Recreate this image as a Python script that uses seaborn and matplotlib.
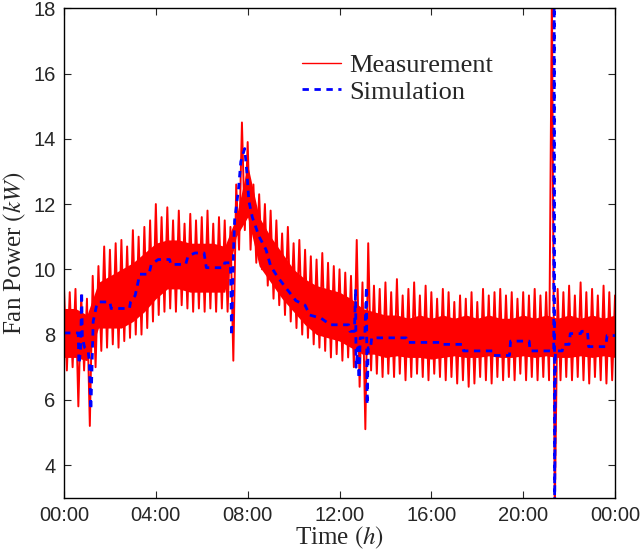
import numpy as np
import pandas as pd
import matplotlib
matplotlib.use("Agg")
import matplotlib.pyplot as plt
import seaborn as sns

# measured fan power, tips of the upper / lower swings every 15 min (kW)
meas_hi = [9.4, 9.3, 9.4, 9.2, 9.1, 9.8, 10.1, 10.7, 10.6, 10.8, 10.9, 10.7,
           11.2, 11.0, 11.3, 11.5, 12.0, 11.6, 11.9, 11.5, 11.8, 11.4, 11.7, 11.5,
           11.6, 11.8, 11.4, 11.6, 11.5, 11.3, 12.6, 14.5, 13.9, 12.6, 12.3, 12.0,
           11.8, 11.5, 11.1, 11.3, 10.8, 10.9, 10.6, 10.4, 10.3, 10.5, 10.2, 10.1,
           10.0, 9.9, 9.8, 10.9, 9.6, 10.8, 9.5, 9.4, 9.6, 9.3, 9.7, 9.2,
           9.4, 9.6, 9.2, 9.5, 9.3, 9.1, 9.4, 9.3, 9.0, 9.2, 9.1, 9.3,
           9.0, 9.4, 9.2, 9.3, 9.4, 9.2, 9.3, 9.1, 9.3, 9.2, 9.4, 9.2,
           9.3, 18.5, 9.4, 9.3, 9.5, 9.2, 9.6, 9.3, 9.4, 9.2, 9.5, 9.3, 9.2]
meas_lo = [6.9, 7.0, 5.8, 6.9, 5.2, 7.0, 7.5, 7.6, 7.7, 7.6, 7.8, 7.9,
           8.0, 8.0, 8.2, 8.4, 8.6, 8.7, 8.8, 8.7, 8.9, 8.8, 8.7, 8.8,
           8.7, 8.8, 8.7, 8.8, 8.7, 7.2, 10.6, 11.2, 10.6, 10.2, 10.0, 9.5,
           9.1, 8.9, 8.6, 8.4, 8.2, 8.0, 7.9, 7.7, 7.6, 7.5, 7.3, 7.4,
           7.2, 7.3, 7.0, 6.4, 5.1, 6.9, 6.8, 6.7, 6.8, 6.7, 6.8, 6.6,
           6.7, 6.8, 6.7, 6.6, 6.8, 6.7, 6.6, 6.7, 6.5, 6.6, 6.4, 6.5,
           6.7, 6.6, 6.5, 6.7, 6.6, 6.7, 6.6, 6.8, 6.6, 6.7, 6.6, 6.7,
           6.6, 2.5, 6.6, 6.7, 6.6, 6.7, 6.6, 6.5, 6.7, 6.6, 6.5, 6.6, 6.6]

# fully solid part of the measured band, every 30 min (kW)
core_hi = [8.8, 8.8, 8.6, 9.6, 9.8, 10.0, 10.2, 10.5, 10.8, 10.9, 10.9, 10.8,
           10.8, 10.8, 10.7, 11.6, 13.2, 11.6, 11.0, 10.5, 10.0, 9.7, 9.5, 9.4,
           9.3, 9.1, 8.8, 8.7, 8.6, 8.6, 8.5, 8.6, 8.5, 8.6, 8.5, 8.6,
           8.5, 8.6, 8.5, 8.5, 8.6, 8.5, 8.6, 8.5, 8.6, 8.5, 8.6, 8.5, 8.6]
core_lo = [7.3, 7.3, 7.2, 8.2, 8.2, 8.2, 8.4, 8.7, 9.1, 9.4, 9.4, 9.3,
           9.3, 9.3, 9.3, 11.0, 11.6, 10.1, 9.6, 9.1, 8.7, 8.3, 8.0, 7.9,
           7.8, 7.6, 7.4, 7.4, 7.3, 7.35, 7.3, 7.3, 7.25, 7.3, 7.35, 7.3,
           7.3, 7.35, 7.3, 7.3, 7.35, 7.3, 7.35, 7.3, 7.3, 7.35, 7.3, 7.35, 7.3]

# simulated fan power (time in hours, kW)
sim_t = [0, 0.62, 0.65, 0.72, 0.77, 0.8, 0.9, 1.05, 1.1, 1.17, 1.22, 1.27,
         1.42, 1.5, 2.0, 2.05, 2.85, 2.9, 3.1, 3.3, 3.7, 3.8, 4.1, 4.6,
         4.65, 5.3, 5.4, 5.7, 6.1, 6.2, 6.95, 7.0, 7.25, 7.3, 7.38, 7.43,
         7.6, 7.7, 7.87, 7.98, 8.05, 8.2, 8.5, 8.8, 9.0, 9.3, 9.7, 10.1,
         10.5, 10.7, 11.2, 11.6, 12.4, 12.45, 12.65, 12.7, 12.72, 12.8, 12.85, 12.9,
         13.1, 13.17, 13.2, 13.25, 13.35, 13.4, 14.9, 14.95, 16.35, 16.4, 17.35, 17.4,
         18.66, 18.7, 19.4, 19.45, 20.26, 20.3, 21.33, 21.35, 21.37, 21.4, 21.7, 21.75,
         22.0, 22.05, 22.5, 22.55, 22.8, 22.85, 23.6, 23.65, 24]
sim_kw = [8.05, 8.05, 7.1, 7.5, 9.3, 7.9, 7.6, 7.5, 7.2, 5.7, 7.0, 8.4,
          8.9, 9.0, 9.0, 8.8, 8.8, 9.0, 9.2, 9.85, 9.85, 10.15, 10.3, 10.3,
          10.15, 10.15, 10.4, 10.5, 10.5, 10.05, 10.05, 10.2, 10.2, 7.97, 10.5, 11.5,
          12.45, 13.3, 13.7, 12.85, 12.1, 11.6, 11.0, 10.6, 10.1, 9.77, 9.4, 9.04,
          8.9, 8.6, 8.5, 8.3, 8.3, 8.1, 8.1, 9.4, 7.0, 7.6, 6.65, 7.9,
          7.9, 9.46, 5.85, 7.6, 7.57, 7.9, 7.9, 7.76, 7.76, 7.7, 7.7, 7.5,
          7.5, 7.36, 7.36, 7.8, 7.8, 7.5, 7.5, 18.5, 2.5, 7.5, 7.5, 7.7,
          7.7, 8.03, 8.03, 8.1, 8.1, 7.63, 7.63, 7.97, 7.97]

tick_hours = [0, 4, 8, 12, 16, 20, 24]
tick_labels = ["00:00", "04:00", "08:00", "12:00", "16:00", "20:00", "00:00"]
y_ticks = [4, 6, 8, 10, 12, 14, 16, 18]

# zigzag the measured signal between its upper and lower swing
grid = np.arange(len(meas_hi)) * 0.25
meas = pd.DataFrame({
    "t": np.column_stack([grid, grid + 0.125]).ravel(),
    "kw": np.column_stack([meas_hi, meas_lo]).ravel(),
})
core_t = np.arange(len(core_hi)) * 0.5
sim = pd.DataFrame({"t": sim_t, "kw": sim_kw})

sns.set_style("ticks")
plt.rcParams['font.family'] = ['Liberation Serif', 'DejaVu Serif']
plt.rcParams['mathtext.fontset'] = 'stix'

dash = (0, (2.3, 2.0))

fig = plt.figure(figsize=(6.4, 5.5), dpi=100)
ax = fig.add_axes([0.1, 0.095, 0.861, 0.89])

ax.fill_between(core_t, core_lo, core_hi, color="red", lw=0)
sns.lineplot(data=meas, x="t", y="kw", color="red", lw=1.4, sort=False,
             estimator=None, label="Measurement", ax=ax)
sns.lineplot(data=sim, x="t", y="kw", color="blue", lw=2.0, sort=False,
             estimator=None, label="Simulation", ax=ax)
ax.lines[1].set_linestyle(dash)

ax.set_xlim(0, 24)
ax.set_ylim(3, 18)
ax.set_xticks(tick_hours)
ax.set_xticklabels(tick_labels, family=['Liberation Sans'], fontsize=14.5)
ax.set_yticks(y_ticks)
ax.set_yticklabels([str(v) for v in y_ticks], family=['Liberation Sans'], fontsize=14.5)
ax.tick_params(direction="in", length=5, width=0.8, top=True, right=True, pad=6)
for s in ax.spines.values():
    s.set_linewidth(1.0)
    s.set_color("black")

ax.set_xlabel("Time $(h)$", fontsize=18, labelpad=0)
ax.set_ylabel("Fan Power $(kW)$", fontsize=18, labelpad=4)

leg = ax.legend(loc="upper center", bbox_to_anchor=(0.605, 0.955), frameon=False,
                fontsize=19, handlelength=1.5, handletextpad=0.3, labelspacing=0.1)
leg.get_lines()[0].set_linewidth(1.0)
leg.get_lines()[1].set_linestyle(dash)
leg.get_lines()[1].set_linewidth(2.0)

fig.savefig("out.png", dpi=100)
